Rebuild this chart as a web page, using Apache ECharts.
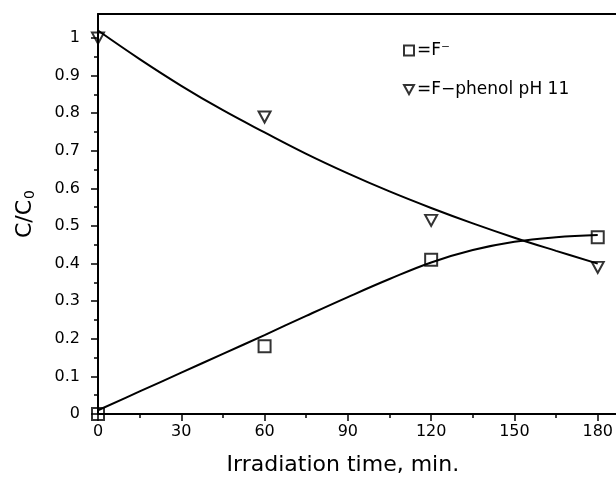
<!DOCTYPE html>
<html>
<head>
<meta charset="utf-8">
<script src="https://cdn.jsdelivr.net/npm/echarts@6/dist/echarts.min.js"></script>
<style>
  html, body { margin: 0; padding: 0; background: #fff; }
  #chart { width: 616px; height: 485px; }
</style>
</head>
<body>
<div id="chart"></div>
<script>
// measured points
var timeMin = [0, 60, 120, 180];
var fluoride = [0, 0.18, 0.41, 0.47];
var phenol = [1.0, 0.79, 0.515, 0.39];

// fitted curves, every 15 min
var curveTime = [0, 15, 30, 45, 60, 75, 90, 105, 120, 135, 150, 165, 180];
var fluorideFit = [0.01, 0.06, 0.11, 0.16, 0.21, 0.261, 0.311, 0.359, 0.403, 0.436, 0.458, 0.47, 0.476];
var phenolFit = [1.02, 0.944, 0.873, 0.808, 0.749, 0.692, 0.64, 0.592, 0.548, 0.507, 0.469, 0.434, 0.40];

// axis ticks
var xTicks = [0, 30, 60, 90, 120, 150, 180];
var xMinor = [15, 45, 75, 105, 135, 165];
var yTicks = [0, 0.1, 0.2, 0.3, 0.4, 0.5, 0.6, 0.7, 0.8, 0.9, 1];
var yMinor = [0.05, 0.15, 0.25, 0.35, 0.45, 0.55, 0.65, 0.75, 0.85, 0.95];

function pairs(xs, ys) {
    return xs.map(function (x, i) { return [x, ys[i]]; });
}

var chart = echarts.init(document.getElementById('chart'));
var font = '"DejaVu Sans", sans-serif';
var lineStyle = { color: '#000', width: 2 };
var markerStyle = { color: 'transparent', borderColor: '#000', borderWidth: 2 };

var option = {
    animation: false,
    grid: { left: 98, right: 0, top: 14, bottom: 71 },
    legend: {
        orient: 'vertical',
        left: 398,
        top: 37,
        itemGap: 22,
        itemWidth: 10,
        itemHeight: 10,
        textStyle: { fontFamily: font, fontSize: 17, color: '#000', padding: [0, 0, 0, -2] },
        data: [
            { name: '=F⁻', icon: 'rect' },
            { name: '=F−phenol pH 11', icon: 'path://M0,0 L12,0 L6,11 Z' }
        ],
        itemStyle: markerStyle
    },
    xAxis: [{
        type: 'value',
        min: 0,
        max: 186.5,
        splitLine: { show: false },
        axisLine: { lineStyle: { color: '#000', width: 2 } },
        axisTick: { customValues: xTicks, length: 7, lineStyle: { color: '#000', width: 1.5 } },
        axisLabel: { customValues: xTicks, margin: 10, fontFamily: font, fontSize: 16, color: '#000' },
        name: 'Irradiation time, min.',
        nameLocation: 'middle',
        nameGap: 40,
        nameTextStyle: { fontFamily: font, fontSize: 22, color: '#000', padding: [0, 28, 0, 0] }
    }, {
        type: 'value',
        min: 0,
        max: 186.5,
        splitLine: { show: false },
        axisLine: { lineStyle: { color: '#000', width: 1.5 } },
        axisTick: { customValues: xMinor, length: 4, lineStyle: { color: '#000', width: 1.5 } },
        axisLabel: { show: false },
        position: 'bottom'
    }, {
        type: 'value',
        min: 0,
        max: 186.5,
        position: 'top',
        splitLine: { show: false },
        axisLine: { lineStyle: { color: '#000', width: 2 } },
        axisTick: { show: false },
        axisLabel: { show: false }
    }],
    yAxis: [{
        type: 'value',
        min: 0,
        max: 1.064,
        splitLine: { show: false },
        axisLine: { show: true, lineStyle: { color: '#000', width: 2 } },
        axisTick: { show: true, customValues: yTicks, length: 7, lineStyle: { color: '#000', width: 1.5 } },
        axisLabel: { customValues: yTicks, margin: 18, fontFamily: font, fontSize: 16, color: '#000' },
        name: '{a|C/C}{s|0}',
        nameLocation: 'middle',
        nameGap: 61,
        nameTextStyle: {
            rich: {
                a: { fontFamily: font, fontSize: 22, color: '#000' },
                s: { fontFamily: font, fontSize: 14, color: '#000', padding: [10, 0, 0, 1] }
            }
        }
    }, {
        type: 'value',
        min: 0,
        max: 1.064,
        position: 'left',
        splitLine: { show: false },
        axisLine: { show: false },
        axisTick: { show: true, customValues: yMinor, length: 4, lineStyle: { color: '#000', width: 1.5 } },
        axisLabel: { show: false }
    }],
    series: [{
        type: 'line',
        data: pairs(curveTime, fluorideFit),
        smooth: 0.4,
        showSymbol: false,
        lineStyle: lineStyle,
        silent: true
    }, {
        type: 'line',
        data: pairs(curveTime, phenolFit),
        smooth: 0.4,
        showSymbol: false,
        lineStyle: lineStyle,
        silent: true
    }, {
        name: '=F⁻',
        type: 'scatter',
        data: pairs(timeMin, fluoride),
        symbol: 'rect',
        symbolSize: 12,
        clip: false,
        z: 5,
        itemStyle: markerStyle
    }, {
        name: '=F−phenol pH 11',
        type: 'scatter',
        data: pairs(timeMin, phenol),
        symbol: 'path://M0,0 L12,0 L6,11 Z',
        symbolSize: [12, 11],
        clip: false,
        z: 5,
        itemStyle: markerStyle
    }]
};
chart.setOption(option);
window.onresize = function () { chart.resize(); };
</script>
</body>
</html>
